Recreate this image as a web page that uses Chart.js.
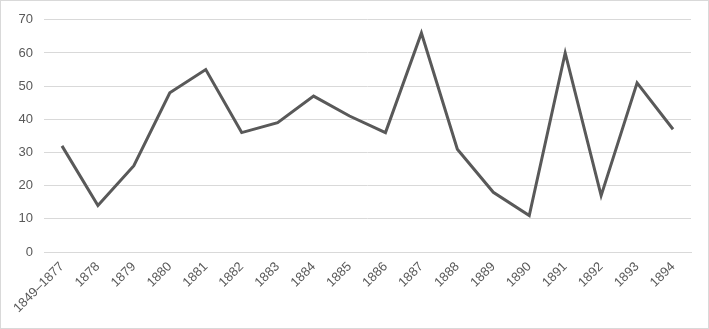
<!DOCTYPE html>
<html lang="en">
<head>
    <meta charset="UTF-8">
    <title>Line chart 1849-1894</title>
    <script src="https://cdn.jsdelivr.net/npm/chart.js"></script>
    <style>
        html, body { margin: 0; padding: 0; background: #fff; }
        #wrap { width: 709px; height: 329px; box-sizing: border-box; border: 1px solid #d9d9d9; }
    </style>
</head>
<body>
    <div id="wrap"><canvas id="lineChart" width="707" height="327"></canvas></div>
    <script>
        const years = ['1849–1877', '1878', '1879', '1880', '1881', '1882', '1883', '1884', '1885',
                       '1886', '1887', '1888', '1889', '1890', '1891', '1892', '1893', '1894'];
        const counts = [32, 14, 26, 48, 55, 36, 39, 47, 41, 36, 66, 31, 18, 11, 60, 17, 51, 37];
        const yTicks = [0, 10, 20, 30, 40, 50, 60, 70];

        const ctx = document.getElementById('lineChart').getContext('2d');
        new Chart(ctx, {
            type: 'line',
            data: {
                labels: years,
                datasets: [{
                    data: counts,
                    borderColor: '#595959',
                    borderWidth: 3,
                    pointRadius: 0,
                    tension: 0,
                    fill: false
                }]
            },
            options: {
                responsive: false,
                animation: false,
                layout: { padding: { top: 17, right: 17, left: 0, bottom: 0 } },
                plugins: {
                    legend: { display: false },
                    tooltip: { enabled: false }
                },
                scales: {
                    x: {
                        offset: true,
                        grid: { display: false, drawTicks: false },
                        border: { display: true, color: '#d9d9d9' },
                        ticks: {
                            maxRotation: 45,
                            minRotation: 45,
                            padding: 7,
                            color: '#595959',
                            font: { family: 'Liberation Sans', size: 13 }
                        },
                        afterFit: function(scale) { scale.height = 76; }
                    },
                    y: {
                        min: 0,
                        max: 70,
                        afterBuildTicks: function(scale) { scale.ticks = yTicks.map(v => ({ value: v })); },
                        grid: { color: '#d9d9d9', drawTicks: false },
                        border: { display: false },
                        ticks: {
                            padding: 11,
                            color: '#595959',
                            font: { family: 'Liberation Sans', size: 13 }
                        },
                        afterFit: function(scale) { scale.width = 43; }
                    }
                }
            }
        });
    </script>
</body>
</html>
